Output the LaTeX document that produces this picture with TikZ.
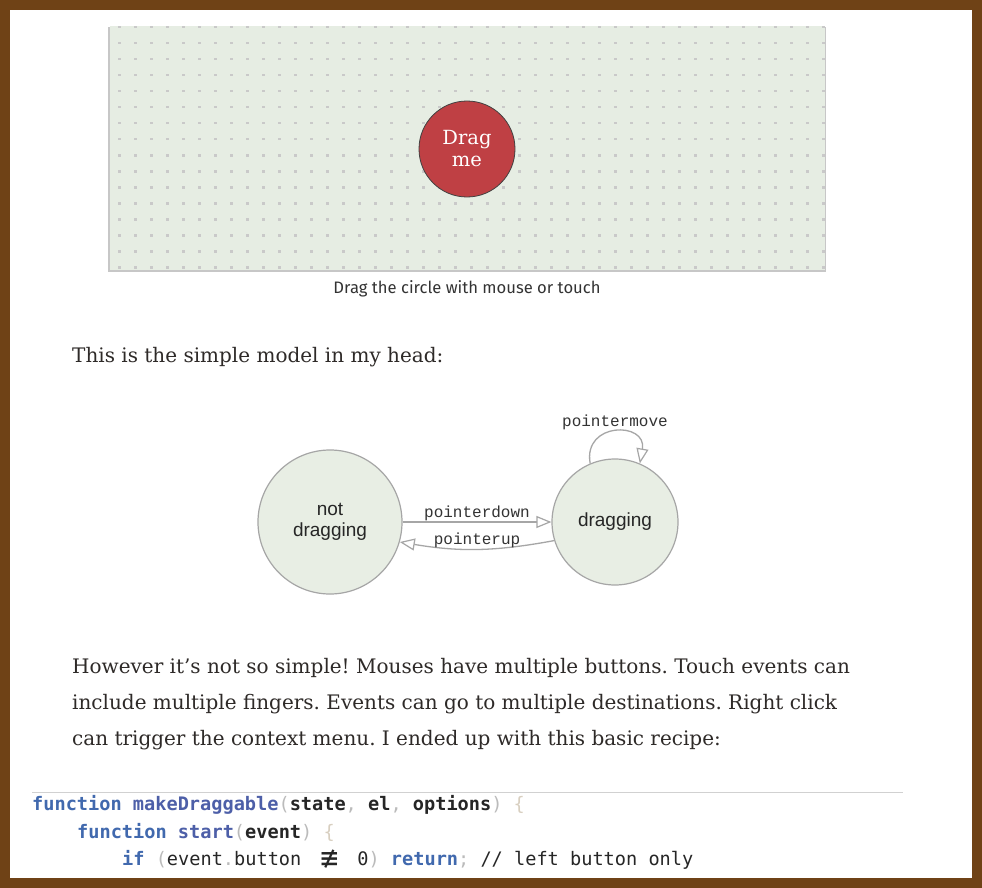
\documentclass[tikz,border=0pt]{standalone}
\usepackage{fontspec}
\usepackage{xcolor}
\usetikzlibrary{arrows.meta}
\usetikzlibrary{positioning}
\setmainfont{DejaVu Serif}
\newfontfamily\capfont{Fira Sans}
\newfontfamily\diafont{Liberation Sans}
\newfontfamily\labfont{Liberation Mono}
\newfontfamily\codefont{DejaVu Sans Mono}
\definecolor{frame}{HTML}{6F4216}
\definecolor{canvas}{HTML}{E6EDE3}
\definecolor{statefill}{HTML}{E8EEE4}
\definecolor{stateline}{HTML}{A6A6A6}
\definecolor{dragred}{HTML}{BF4044}
\definecolor{bodytext}{HTML}{2E2A28}
\definecolor{kw}{HTML}{4169AE}
\definecolor{fn}{HTML}{4D5FA8}
\definecolor{punct}{HTML}{BBBBBB}
\definecolor{brace}{HTML}{D8CFC0}
\frenchspacing

\begin{document}
\begin{tikzpicture}[x=1pt,y=-1pt]
  \tikzset{state/.style = {shape=circle,draw=stateline,fill=statefill,line width=1.2pt,inner sep=0pt,align=center,text=black!85,font=\diafont\fontsize{19}{21}\selectfont}}
  \tikzset{edge/.style = {draw=stateline,line width=1.3pt}}
  \tikzset{lab/.style = {inner sep=1pt,text=black!80,font=\labfont\fontsize{16}{18}\selectfont}}
  \tikzset{para/.style = {anchor=base west,inner sep=0pt,text=bodytext,font=\fontsize{20}{24}\selectfont}}
  \tikzset{code/.style = {anchor=base west,inner sep=0pt,text=black!85,font=\codefont\fontsize{18.6}{20}\selectfont}}
  \tikzset{%
  tipA/.tip={Triangle[open,length=15pt,width=12pt,line width=1.2pt]},
}

	% page frame
	\fill[frame] (0,0) rectangle (982,888);
	\fill[white] (10,10) rectangle (972,878);

	% dotted canvas
	\fill[black!22] (108,27) rectangle (826,272);
	\fill[canvas] (110,26) rectangle (825,270);
	\foreach \i in {0,...,44}
	\foreach \j in {0,...,15}
	\fill[black!21] ({118+16*\i},{26+16*\j}) rectangle +(2.5,2.5);
	\node[circle,fill=dragred,draw=black!75,line width=0.8pt,minimum size=96pt,inner sep=0pt,align=center,text=white,font=\fontsize{19.5}{22}\selectfont] (drag) at (467,149) {Drag\\me};
	\node[anchor=base,inner sep=0pt,text=black!80,font=\capfont\fontsize{16.6}{18}\selectfont] (cap) at (467,293) {Drag the circle with mouse or touch};

	\node[para] (intro) at (72,362) {This is the simple model in my head:};

	% state diagram
	\node[state,minimum size=144pt] (ND) at (330,522) {not\\dragging};
	\node[state,minimum size=126pt] (DR) at (615,522) {dragging};

    \path[edge,-tipA] (ND.east) -- node[lab,above] (pd) {pointerdown} (DR.west);
    \path[edge,-tipA] (DR.197) to[bend left=10] node[lab,above] (pu) {pointerup} (ND.-16);
    \path[edge,-tipA] (DR.113) to[out=100,in=80,looseness=2.2] node[lab,above] (pm) {pointermove} (DR.67);

	\node[para] (p1) at (72,673) {However it’s not so simple! Mouses have multiple buttons. Touch events can};
	\node[para] (p2) at (72,709) {include multiple fingers. Events can go to multiple destinations. Right click};
	\node[para] (p3) at (72,745) {can trigger the context menu. I ended up with this basic recipe:};

	% code listing
	\draw[black!18,line width=1pt] (32,792) -- (903,792);
	\node[code] (c1) at (32,810) {\textcolor{kw}{\textbf{function}} \textcolor{fn}{\textbf{makeDraggable}}\textcolor{punct}{(}\textbf{state}\textcolor{punct}{,} \textbf{el}\textcolor{punct}{,} \textbf{options}\textcolor{punct}{)} \textcolor{brace}{\{}};
	\node[code] (c2) at (77,838) {\textcolor{kw}{\textbf{function}} \textcolor{fn}{\textbf{start}}\textcolor{punct}{(}\textbf{event}\textcolor{punct}{)} \textcolor{brace}{\{}};
	\node[code] (c3) at (122,865) {\textcolor{kw}{\textbf{if}} \textcolor{punct}{(}event\textcolor{punct}{.}button \makebox[33.6pt]{\raisebox{-3.5pt}{\fontsize{30}{30}\selectfont ≢}} 0\textcolor{punct}{)} \textcolor{kw}{\textbf{return}}\textcolor{punct}{;} // left button only};

\end{tikzpicture}
\end{document}
